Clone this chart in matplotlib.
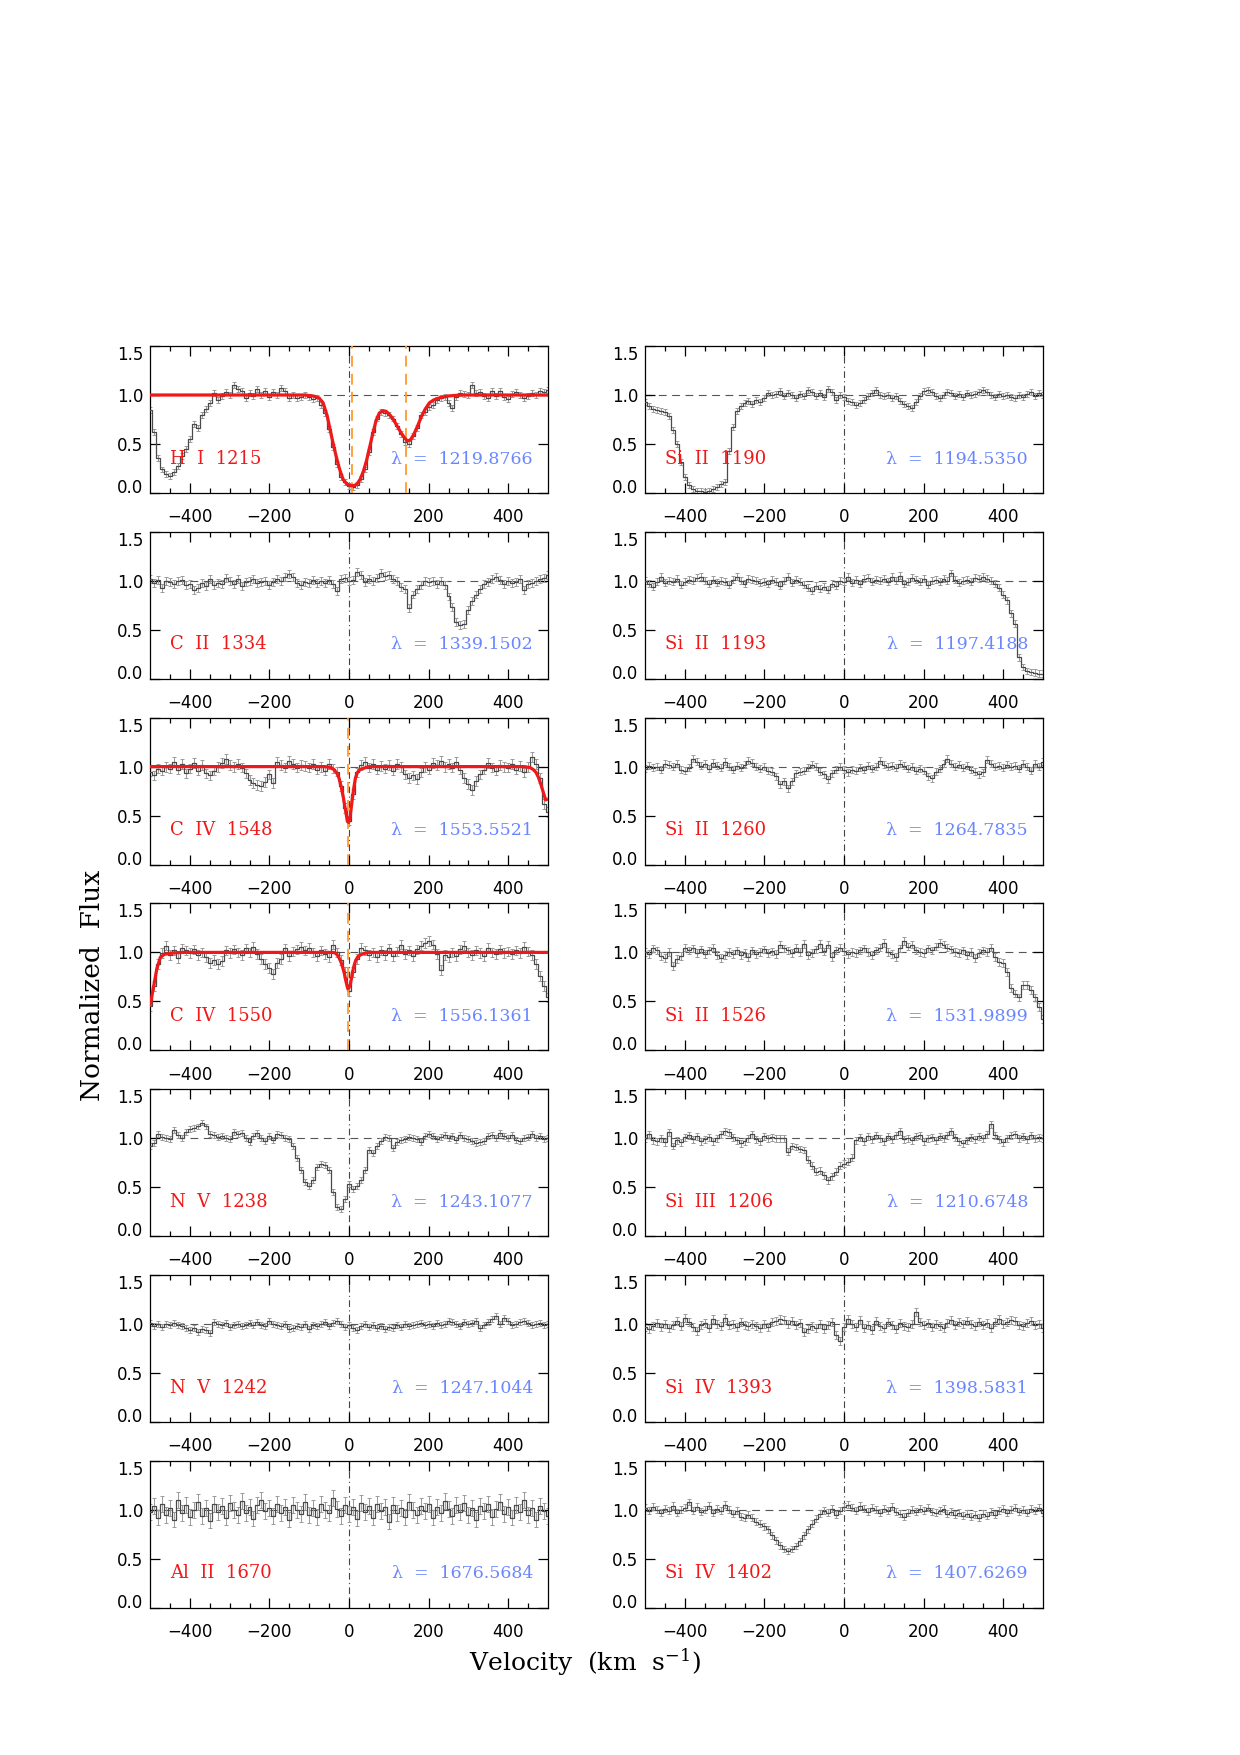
import numpy as np
import matplotlib
matplotlib.use("Agg")
import matplotlib.pyplot as plt

plt.rcParams["mathtext.fontset"] = "dejavuserif"

# ---------------- data (flux on a 10 km/s grid from -500 to +500) ----------------
flux_HI_1215 = [
    0.85, 0.62, 0.36, 0.24, 0.19, 0.17, 0.21, 0.28, 0.38, 0.45,
    0.55, 0.70, 0.66, 0.80, 0.86, 0.92, 1.02, 0.95, 0.99, 1.03,
    1.00, 1.10, 1.06, 1.04, 0.97, 1.02, 0.99, 1.06, 1.00, 1.04,
    0.98, 1.03, 1.00, 1.07, 1.04, 0.97, 1.00, 0.97, 0.98, 1.00,
    0.98, 0.96, 0.97, 0.90, 0.82, 0.65, 0.47, 0.30, 0.16, 0.11,
    0.07, 0.06, 0.08, 0.14, 0.24, 0.42, 0.62, 0.76, 0.83, 0.82,
    0.80, 0.76, 0.68, 0.60, 0.52, 0.50, 0.58, 0.66, 0.80, 0.83,
    0.88, 0.90, 0.95, 0.97, 0.98, 0.92, 0.87, 0.98, 1.02, 1.01,
    1.00, 1.10, 1.02, 1.03, 0.99, 0.97, 1.04, 0.99, 1.04, 0.98,
    0.96, 1.01, 1.03, 1.00, 0.97, 0.99, 1.02, 1.00, 1.04, 1.03,
    1.05]
flux_CII_1334 = [
    1.02, 0.98, 1.01, 0.93, 1.00, 0.99, 0.97, 1.00, 1.01, 0.96,
    0.97, 0.91, 0.93, 0.98, 0.95, 1.02, 0.96, 0.98, 0.97, 1.03,
    1.00, 0.97, 1.02, 0.95, 0.99, 1.00, 1.02, 0.98, 0.99, 1.00,
    0.96, 0.99, 1.02, 1.00, 1.04, 1.07, 1.04, 0.98, 0.96, 0.99,
    0.98, 1.01, 0.98, 1.00, 0.98, 1.01, 0.97, 0.90, 1.02, 1.03,
    1.00, 1.01, 1.09, 1.06, 0.99, 1.02, 1.00, 1.03, 1.08, 1.05,
    1.06, 1.02, 1.00, 0.94, 0.92, 0.72, 0.86, 0.92, 0.96, 1.00,
    0.99, 1.00, 0.97, 1.00, 0.96, 0.84, 0.73, 0.58, 0.55, 0.56,
    0.70, 0.79, 0.86, 0.92, 0.97, 0.99, 1.02, 1.04, 1.01, 0.97,
    1.00, 0.98, 0.99, 1.02, 0.91, 0.97, 0.98, 1.00, 1.02, 1.03,
    1.06]
flux_CIV_1548 = [
    0.95, 0.91, 0.98, 0.96, 1.00, 0.98, 1.05, 0.97, 1.03, 0.93,
    0.98, 1.04, 0.96, 1.02, 0.93, 0.91, 0.96, 1.00, 1.04, 1.08,
    1.02, 1.00, 1.03, 0.99, 0.93, 0.86, 0.83, 0.81, 0.80, 0.84,
    0.92, 0.83, 1.05, 1.02, 0.99, 1.06, 1.03, 0.99, 1.02, 1.01,
    0.99, 1.03, 0.97, 1.00, 0.96, 1.03, 0.98, 0.95, 0.80, 0.58,
    0.45, 0.72, 0.94, 1.02, 1.05, 0.99, 1.03, 0.97, 1.01, 0.98,
    1.02, 0.96, 1.03, 1.00, 0.92, 0.88, 0.91, 0.87, 0.94, 1.00,
    0.97, 1.04, 1.02, 1.06, 1.00, 1.03, 0.99, 1.05, 0.97, 0.88,
    0.82, 0.76, 0.85, 0.92, 0.97, 1.04, 0.99, 0.96, 1.02, 1.00,
    0.99, 1.03, 0.97, 1.01, 0.94, 1.00, 1.10, 1.03, 0.88, 0.62,
    0.54]
flux_CIV_1550 = [
    0.45, 0.66, 0.88, 0.99, 1.07, 0.97, 1.02, 0.94, 1.04, 1.02,
    0.99, 1.03, 0.97, 1.00, 0.95, 0.89, 0.92, 0.88, 0.91, 1.02,
    0.99, 1.03, 1.00, 0.97, 1.04, 1.00, 1.06, 0.98, 0.93, 0.88,
    0.84, 0.78, 0.89, 0.93, 1.04, 0.96, 1.01, 1.03, 1.06, 1.02,
    1.05, 1.00, 0.96, 1.02, 0.98, 0.95, 1.08, 1.00, 0.92, 0.80,
    0.61, 0.80, 0.93, 1.05, 1.02, 0.97, 1.00, 0.95, 1.02, 0.97,
    1.04, 0.96, 1.01, 1.08, 0.98, 1.02, 0.96, 1.03, 1.07, 1.10,
    1.12, 1.08, 0.98, 0.82, 0.97, 0.95, 1.00, 0.96, 1.03, 1.07,
    1.00, 0.97, 1.02, 0.99, 0.96, 1.05, 1.00, 0.98, 1.03, 0.99,
    1.01, 0.98, 1.02, 0.99, 1.06, 1.01, 0.97, 0.88, 0.76, 0.66,
    0.54]
flux_NV_1238 = [
    0.92, 0.95, 1.04, 1.01, 1.00, 0.99, 1.08, 1.03, 1.00, 1.06,
    1.09, 1.10, 1.12, 1.16, 1.12, 1.04, 1.03, 1.01, 1.02, 1.00,
    0.99, 1.06, 1.04, 1.05, 1.00, 0.96, 1.02, 1.05, 1.00, 0.97,
    1.02, 0.98, 1.04, 1.03, 1.00, 0.99, 0.92, 0.80, 0.68, 0.55,
    0.51, 0.57, 0.71, 0.74, 0.73, 0.68, 0.45, 0.30, 0.28, 0.38,
    0.53, 0.48, 0.51, 0.57, 0.68, 0.88, 0.85, 0.92, 0.97, 1.01,
    1.00, 0.90, 0.96, 0.98, 0.99, 1.01, 1.00, 0.99, 0.96, 1.02,
    1.04, 1.02, 0.99, 1.01, 1.03, 1.00, 1.02, 0.98, 1.03, 1.00,
    0.99, 0.97, 0.95, 0.96, 0.97, 1.02, 1.03, 1.00, 1.05, 1.02,
    1.00, 1.03, 0.98, 0.97, 1.00, 1.01, 1.04, 1.00, 1.02, 0.99,
    1.00]
flux_NV_1242 = [
    1.01, 0.98, 1.00, 0.97, 1.00, 0.99, 1.01, 0.99, 0.98, 0.96,
    0.94, 0.96, 0.92, 0.95, 0.94, 0.91, 1.02, 1.00, 0.99, 1.01,
    0.97, 0.99, 1.00, 0.98, 0.99, 1.01, 0.99, 1.02, 0.99, 0.98,
    1.03, 1.00, 0.99, 0.98, 1.00, 0.95, 0.96, 0.98, 0.97, 1.00,
    0.95, 0.99, 0.98, 1.00, 1.02, 0.98, 1.01, 1.03, 1.00, 0.97,
    0.99, 0.96, 0.94, 0.98, 1.00, 0.97, 0.99, 0.96, 0.98, 0.95,
    0.97, 0.96, 0.99, 0.97, 1.00, 0.98, 0.99, 1.00, 1.01, 0.99,
    1.00, 0.98, 1.01, 0.99, 1.00, 1.03, 1.02, 1.00, 0.98, 1.02,
    1.00, 1.01, 1.03, 0.96, 0.99, 1.02, 1.05, 1.08, 1.00, 1.06,
    1.03, 0.99, 1.00, 1.02, 1.03, 1.01, 0.99, 1.00, 1.01, 0.99,
    1.00]
flux_AlII_1670 = [
    0.98, 1.04, 0.92, 1.06, 0.95, 1.02, 0.90, 1.10, 0.97, 1.05,
    0.93, 1.00, 1.08, 0.94, 1.02, 0.89, 1.06, 0.98, 1.04, 0.92,
    1.07, 1.00, 0.95, 1.09, 0.97, 1.03, 0.91, 1.05, 1.10, 0.99,
    1.02, 0.94, 1.06, 0.97, 1.03, 0.90, 1.05, 1.00, 0.96, 1.08,
    0.95, 1.02, 0.93, 1.06, 1.00, 0.97, 1.12, 1.01, 0.94, 1.05,
    0.96, 1.03, 0.91, 1.07, 0.98, 1.04, 0.92, 1.06, 0.99, 1.03,
    0.88, 1.05, 0.97, 1.02, 0.93, 1.08, 1.00, 0.95, 1.04, 0.99,
    1.06, 0.92, 1.03, 0.97, 1.09, 1.01, 0.94, 1.05, 0.98, 1.07,
    0.95, 1.02, 0.90, 1.04, 0.99, 1.06, 0.93, 1.01, 1.08, 0.96,
    1.03, 0.92, 1.05, 0.98, 1.10, 0.95, 1.02, 0.90, 1.04, 0.99,
    0.94]
flux_SiII_1190 = [
    0.93, 0.89, 0.86, 0.85, 0.84, 0.83, 0.79, 0.64, 0.50, 0.32,
    0.16, 0.08, 0.04, 0.02, 0.02, 0.01, 0.02, 0.04, 0.06, 0.09,
    0.11, 0.43, 0.67, 0.84, 0.89, 0.92, 0.94, 0.91, 0.95, 0.93,
    0.97, 1.02, 1.00, 1.01, 1.04, 0.99, 1.02, 1.00, 0.97, 1.01,
    0.99, 1.05, 1.03, 0.99, 1.02, 0.98, 1.06, 1.03, 0.95, 1.00,
    0.98, 0.94, 0.93, 0.90, 0.92, 0.95, 0.99, 1.02, 1.05, 1.00,
    0.99, 1.00, 0.97, 0.99, 0.94, 0.91, 0.89, 0.87, 0.93, 0.99,
    1.04, 1.05, 1.03, 0.99, 0.97, 1.00, 1.03, 1.02, 0.99, 1.01,
    0.98, 1.02, 1.00, 1.01, 1.03, 1.05, 1.03, 1.00, 0.98, 1.01,
    0.99, 1.00, 0.98, 0.97, 1.00, 0.98, 1.01, 1.03, 0.99, 1.02,
    1.00]
flux_SiII_1193 = [
    1.00, 0.97, 0.94, 0.99, 1.04, 0.98, 1.00, 0.99, 1.02, 0.96,
    0.99, 1.01, 1.00, 1.03, 1.04, 1.00, 0.97, 1.01, 0.98, 1.00,
    0.99, 0.96, 1.01, 1.04, 1.00, 0.97, 1.02, 1.01, 1.00, 0.98,
    0.99, 0.97, 1.01, 0.99, 0.95, 1.00, 1.04, 0.98, 1.01, 0.99,
    0.96, 0.93, 0.90, 0.95, 0.92, 0.94, 0.91, 0.97, 0.95, 1.00,
    0.99, 1.04, 0.98, 1.01, 0.97, 1.02, 1.03, 0.99, 1.01, 1.00,
    1.02, 0.99, 1.04, 1.00, 1.05, 0.97, 0.99, 1.03, 1.01, 0.99,
    1.02, 0.96, 1.00, 1.01, 0.99, 1.02, 1.00, 1.08, 1.01, 0.98,
    1.00, 1.01, 0.99, 1.03, 1.02, 1.04, 1.02, 1.00, 0.97, 0.93,
    0.86, 0.80, 0.67, 0.56, 0.22, 0.12, 0.08, 0.07, 0.06, 0.05,
    0.05]
flux_SiII_1260 = [
    0.98, 1.01, 0.99, 1.00, 0.97, 1.03, 1.02, 1.00, 1.03, 0.97,
    0.96, 0.99, 1.08, 1.05, 1.01, 1.03, 0.98, 1.04, 1.01, 0.99,
    1.05, 1.00, 0.97, 1.01, 0.99, 1.02, 1.06, 1.04, 1.00, 0.98,
    1.00, 0.96, 0.95, 0.90, 0.82, 0.85, 0.78, 0.85, 0.93, 0.95,
    0.96, 0.99, 1.02, 1.00, 0.95, 0.92, 0.87, 0.93, 0.97, 1.00,
    0.97, 0.94, 0.97, 0.96, 0.99, 0.97, 1.01, 0.98, 1.00, 1.06,
    1.02, 1.00, 1.01, 0.99, 1.03, 1.01, 0.98, 1.00, 0.96, 0.98,
    0.96, 0.90, 0.88, 0.95, 0.98, 1.03, 1.08, 1.03, 1.00, 1.02,
    0.99, 1.01, 0.97, 0.95, 0.92, 0.94, 1.07, 1.03, 1.00, 1.01,
    0.99, 1.02, 1.00, 1.01, 0.98, 1.03, 1.00, 0.96, 1.03, 1.00,
    1.05]
flux_SiII_1526 = [
    1.00, 0.98, 1.04, 1.02, 0.96, 0.94, 1.00, 0.86, 0.93, 0.96,
    1.05, 1.02, 1.04, 0.99, 1.03, 0.98, 1.02, 1.05, 0.97, 0.94,
    0.97, 1.00, 0.98, 1.02, 0.97, 0.99, 0.95, 1.02, 0.98, 1.00,
    1.03, 0.99, 1.01, 0.98, 1.08, 1.04, 1.02, 0.99, 1.05, 1.00,
    1.09, 0.97, 0.99, 1.03, 1.09, 1.01, 1.08, 0.95, 1.02, 1.05,
    1.01, 0.98, 1.00, 0.99, 1.02, 1.04, 1.00, 0.97, 1.02, 1.05,
    1.10, 1.00, 0.98, 0.95, 1.04, 1.12, 1.06, 1.08, 1.02, 1.00,
    0.99, 1.04, 1.02, 1.06, 1.10, 1.08, 1.05, 1.03, 1.00, 0.99,
    1.02, 0.97, 1.00, 0.94, 0.99, 1.02, 1.00, 1.05, 0.95, 0.90,
    0.89, 0.80, 0.64, 0.58, 0.54, 0.67, 0.67, 0.62, 0.54, 0.44,
    0.32]
flux_SiIII_1206 = [
    1.00, 1.04, 0.98, 0.97, 1.00, 0.96, 1.06, 0.92, 0.98, 0.96,
    1.01, 1.03, 0.99, 1.02, 0.97, 0.99, 1.01, 0.97, 1.00, 1.04,
    1.07, 1.06, 1.01, 0.98, 0.95, 0.97, 1.00, 1.04, 0.99, 0.97,
    1.02, 1.00, 1.01, 1.00, 1.00, 1.00, 0.86, 0.92, 0.91, 0.89,
    0.88, 0.78, 0.72, 0.66, 0.67, 0.62, 0.57, 0.61, 0.66, 0.72,
    0.74, 0.76, 0.80, 0.98, 1.01, 0.97, 1.02, 0.99, 1.03, 1.00,
    0.97, 1.02, 0.99, 1.03, 1.07, 0.99, 1.00, 0.98, 1.02, 1.03,
    0.97, 1.00, 1.01, 0.98, 1.02, 1.00, 1.03, 1.07, 1.01, 0.97,
    0.95, 0.98, 1.01, 0.99, 1.02, 1.00, 1.04, 1.14, 1.03, 0.99,
    0.96, 1.00, 1.03, 1.04, 1.00, 1.02, 0.99, 1.03, 1.00, 1.01,
    1.00]
flux_SiIV_1393 = [
    0.97, 0.95, 0.98, 1.01, 0.97, 1.00, 0.96, 0.99, 1.03, 0.98,
    1.06, 1.02, 0.97, 0.93, 0.99, 1.01, 0.96, 1.05, 1.00, 0.98,
    1.06, 0.99, 1.00, 0.97, 1.02, 0.99, 0.98, 1.00, 0.98, 0.96,
    1.00, 0.97, 1.02, 1.03, 1.05, 1.04, 1.00, 1.03, 0.99, 1.01,
    0.92, 0.95, 0.98, 0.96, 1.00, 0.95, 0.99, 1.02, 0.89, 0.83,
    0.97, 1.05, 1.00, 0.97, 1.04, 0.96, 0.99, 0.94, 1.03, 0.98,
    0.96, 1.02, 0.99, 0.95, 1.01, 0.98, 0.97, 1.00, 1.12, 1.02,
    0.99, 1.01, 0.97, 1.00, 0.98, 0.96, 1.01, 1.04, 0.99, 1.02,
    1.00, 1.03, 1.00, 0.98, 1.02, 0.99, 1.01, 0.96, 1.02, 1.05,
    1.00, 1.02, 1.04, 1.03, 0.99, 0.98, 1.01, 1.03, 0.99, 1.00,
    0.96]
flux_SiIV_1402 = [
    1.02, 0.99, 1.03, 1.00, 0.97, 1.01, 0.99, 1.04, 0.97, 1.00,
    1.02, 1.08, 0.99, 1.03, 0.98, 1.00, 1.04, 0.97, 1.01, 0.99,
    1.05, 1.00, 0.96, 0.99, 0.93, 0.92, 0.95, 0.92, 0.88, 0.86,
    0.83, 0.80, 0.74, 0.69, 0.64, 0.60, 0.58, 0.60, 0.63, 0.68,
    0.74, 0.80, 0.86, 0.91, 0.96, 0.99, 0.97, 1.01, 0.95, 0.99,
    1.03, 1.05, 1.02, 0.99, 1.04, 1.01, 0.98, 1.02, 1.00, 0.97,
    1.01, 0.99, 1.03, 0.98, 0.96, 0.93, 0.97, 1.00, 0.98, 1.01,
    0.99, 1.02, 0.98, 0.97, 0.99, 1.01, 0.96, 0.98, 0.95, 0.97,
    0.94, 0.96, 0.93, 0.95, 0.92, 0.96, 0.94, 0.98, 0.95, 0.99,
    1.01, 0.97, 1.00, 1.02, 0.98, 1.00, 0.97, 1.01, 0.99, 1.02,
    0.97]

# fitted models (red curves)
model_HI_v = [-500, -110, -90, -75, -65, -55, -45, -35, -25, -15, -5, 5, 12, 20, 28,
              36, 44, 52, 60, 68, 76, 84, 92, 100, 110, 120, 130, 140, 147, 155,
              163, 172, 182, 192, 202, 213, 230, 250, 280, 500]
model_HI_f = [1.0, 1.0, 0.99, 0.97, 0.92, 0.79, 0.60, 0.42, 0.26, 0.14, 0.09, 0.075, 0.075, 0.09, 0.14,
              0.22, 0.33, 0.47, 0.61, 0.74, 0.815, 0.84, 0.835, 0.81, 0.76, 0.69, 0.62, 0.56, 0.53, 0.545,
              0.60, 0.68, 0.78, 0.86, 0.92, 0.95, 0.975, 0.99, 1.0, 1.0]
model_CIV1548_v = [-500, -60, -45, -38, -30, -25, -20, -14, -9, -4, -1, 2, 5, 8, 12, 16, 21, 28, 38, 50,
                   440, 455, 463, 470, 476, 482, 488, 494, 500]
model_CIV1548_f = [1.0, 1.0, 0.99, 0.97, 0.93, 0.88, 0.80, 0.68, 0.56, 0.44, 0.43, 0.47, 0.56, 0.66, 0.78,
                   0.88, 0.94, 0.97, 0.985, 1.0, 1.0, 0.99, 0.97, 0.94, 0.89, 0.82, 0.74, 0.66, 0.67]
model_CIV1550_v = [-500, -491, -483, -474, -464, -450, -439, -420, -40, -33, -27, -21, -16, -12, -8, -5, -3,
                   0, 3, 6, 9, 13, 17, 22, 29, 38, 50, 500]
model_CIV1550_f = [0.45, 0.65, 0.83, 0.95, 0.98, 0.99, 0.995, 1.0, 1.0, 0.99, 0.96, 0.91, 0.85, 0.79, 0.71,
                   0.66, 0.63, 0.64, 0.67, 0.73, 0.80, 0.87, 0.92, 0.955, 0.975, 0.99, 1.0, 1.0]

# component velocities (orange dashed)
comp_HI = [7, 144]
comp_CIV1548 = [-3]
comp_CIV1550 = [-3]

ion_labels_left = ["H  I  1215", "C  II  1334", "C  IV  1548", "C  IV  1550",
                   "N  V  1238", "N  V  1242", "Al  II  1670"]
lambda_left = ["1219.8766", "1339.1502", "1553.5521", "1556.1361",
               "1243.1077", "1247.1044", "1676.5684"]
ion_labels_right = ["Si  II  1190", "Si  II  1193", "Si  II  1260", "Si  II  1526",
                    "Si  III  1206", "Si  IV  1393", "Si  IV  1402"]
lambda_right = ["1194.5350", "1197.4188", "1264.7835", "1531.9899",
                "1210.6748", "1398.5831", "1407.6269"]

flux_left = [flux_HI_1215, flux_CII_1334, flux_CIV_1548, flux_CIV_1550,
             flux_NV_1238, flux_NV_1242, flux_AlII_1670]
flux_right = [flux_SiII_1190, flux_SiII_1193, flux_SiII_1260, flux_SiII_1526,
              flux_SiIII_1206, flux_SiIV_1393, flux_SiIV_1402]
err_left = [0.03, 0.04, 0.05, 0.05, 0.03, 0.03, 0.08]
err_right = [0.03, 0.035, 0.035, 0.04, 0.035, 0.04, 0.035]
models_left = {0: (model_HI_v, model_HI_f), 2: (model_CIV1548_v, model_CIV1548_f),
               3: (model_CIV1550_v, model_CIV1550_f)}
comps_left = {0: comp_HI, 2: comp_CIV1548, 3: comp_CIV1550}

# ---------------- figure ----------------
W, H = 1240.0, 1755.0
fig = plt.figure(figsize=(W / 100, H / 100), dpi=100)

col_x = [150, 645]
ax_w = 398
ax_h = 147
row_top0 = 346
row_step = 185.8

TICK_FONT = "DejaVu Sans"
LABEL_FONT = "DejaVu Serif"
RED = "#f01818"
BLUE = "#6a86ff"
ORANGE = "#ff9a30"


def draw_panel(ax, flux, err, name, lam, model=None, comps=None):
    flux = np.asarray(flux, dtype=float)
    vel = np.linspace(-500, 500, len(flux))
    ax.errorbar(vel, flux, yerr=err, fmt="none", ecolor="#9a9a9a",
                elinewidth=0.7, capsize=1.6, capthick=0.7, zorder=2)
    ax.step(vel, flux, where="mid", color="#4a4a4a", lw=0.9, zorder=3)
    ax.axhline(1.0, color="#555555", lw=0.8, ls=(0, (7, 5)), zorder=1)
    ax.axvline(0.0, color="#444444", lw=0.8, ls=(0, (6, 3, 1, 3)), zorder=1)
    if comps is not None:
        for c in comps:
            ax.axvline(c, color=ORANGE, lw=1.3, ls=(0, (6, 4)), zorder=4)
    if model is not None:
        ax.plot(model[0], model[1], color=RED, lw=2.3, zorder=5, solid_capstyle="butt")
    ax.set_xlim(-500, 500)
    ax.set_ylim(0, 1.5)
    ax.set_xticks([-400, -200, 0, 200, 400])
    ax.set_xticks(np.arange(-450, 500, 50), minor=True)
    ax.set_yticks([0.0, 0.5, 1.0, 1.5])
    ax.set_yticklabels(["0.0", "0.5", "1.0", "1.5"])
    ax.tick_params(axis="both", which="both", direction="in", top=True, right=True,
                   width=0.9, color="black")
    ax.tick_params(axis="x", which="major", length=7, pad=11)
    ax.tick_params(axis="x", which="minor", length=3.5)
    ax.tick_params(axis="y", which="major", length=7, pad=5)
    for lab in ax.get_xticklabels() + ax.get_yticklabels():
        lab.set_fontfamily(TICK_FONT)
        lab.set_fontsize(12)
    ylabs = ax.get_yticklabels()
    ylabs[0].set_verticalalignment("baseline")
    ylabs[-1].set_verticalalignment("top")
    for sp in ax.spines.values():
        sp.set_linewidth(0.9)
    ax.text(-450, 0.30, name, color=RED, fontsize=13, family=LABEL_FONT,
            ha="left", va="baseline", zorder=6)
    ax.text(462, 0.30, "\u03bb  =  " + lam, color=BLUE, fontsize=12.5, family=LABEL_FONT,
            ha="right", va="baseline", zorder=6)


for col in range(2):
    for row in range(7):
        top = row_top0 + row * row_step
        rect = [col_x[col] / W, 1 - (top + ax_h) / H, ax_w / W, ax_h / H]
        ax = fig.add_axes(rect)
        if col == 0:
            draw_panel(ax, flux_left[row], err_left[row], ion_labels_left[row], lambda_left[row],
                       model=models_left.get(row), comps=comps_left.get(row))
        else:
            draw_panel(ax, flux_right[row], err_right[row], ion_labels_right[row], lambda_right[row])

fig.text(92 / W, 1 - 985 / H, "Normalized  Flux", rotation=90, ha="center", va="center",
         fontsize=19, family=LABEL_FONT)
fig.text(585 / W, 1 - 1662 / H, "Velocity  (km  s$^{-1}$)", ha="center", va="center",
         fontsize=18, family=LABEL_FONT)

fig.savefig("out.png", dpi=100)
